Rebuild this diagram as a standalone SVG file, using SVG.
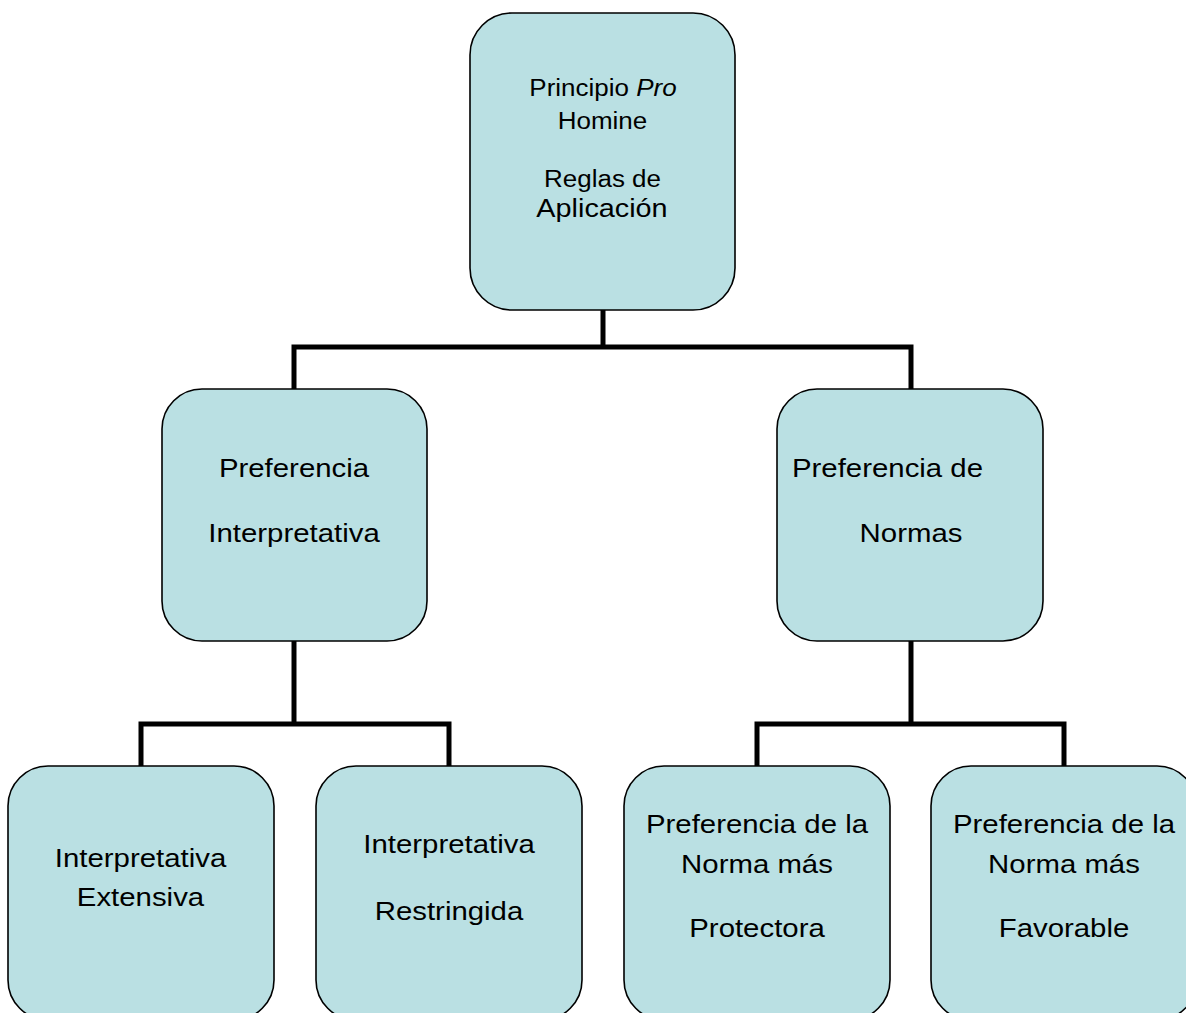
<svg xmlns="http://www.w3.org/2000/svg" width="1186" height="1013" viewBox="0 0 1186 1013">
<style>
.box{fill:#BAE0E3;stroke:#000;stroke-width:1.6}
.t{font-family:"Liberation Sans",Arial,sans-serif;font-size:26px;fill:#000;text-anchor:middle}
.s{font-size:23px}
.c{fill:none;stroke:#000;stroke-width:5;stroke-linejoin:miter;stroke-linecap:butt}
</style>
<rect width="1186" height="1013" fill="#fff"/>
<g id="connectors">
<path class="c" d="M603,310 V347"/>
<path class="c" d="M294,389 V347 H911 V389"/>
<path class="c" d="M294,641 V724"/>
<path class="c" d="M141,766 V724 H449 V766"/>
<path class="c" d="M911,641 V724"/>
<path class="c" d="M757,766 V724 H1064 V766"/>
</g>
<g id="root">
<rect class="box" x="470" y="13" width="265" height="297" rx="42"/>
<text class="t s" transform="translate(603,96) scale(1.13,1)">Principio <tspan font-style="italic">Pro</tspan></text>
<text class="t s" transform="translate(602.5,129) scale(1.13,1)">Homine</text>
<text class="t s" transform="translate(602.5,187) scale(1.13,1)">Reglas de</text>
<text class="t" style="font-size:25.5px" transform="translate(602,217) scale(1.13,1)">Aplicación</text>
</g>
<g id="pref-interpretativa">
<rect class="box" x="162" y="389" width="265" height="252" rx="40"/>
<text class="t" transform="translate(294,477) scale(1.13,1)">Preferencia</text>
<text class="t" transform="translate(294,542) scale(1.13,1)">Interpretativa</text>
</g>
<g id="pref-normas">
<rect class="box" x="777" y="389" width="266" height="252" rx="40"/>
<text class="t" transform="translate(887.5,477) scale(1.13,1)">Preferencia de</text>
<text class="t" transform="translate(911,542) scale(1.13,1)">Normas</text>
</g>
<g id="interp-extensiva">
<rect class="box" x="8" y="766" width="266" height="254" rx="40"/>
<text class="t" transform="translate(140.5,867) scale(1.13,1)">Interpretativa</text>
<text class="t" transform="translate(140.5,906) scale(1.13,1)">Extensiva</text>
</g>
<g id="interp-restringida">
<rect class="box" x="316" y="766" width="266" height="254" rx="40"/>
<text class="t" transform="translate(449,853) scale(1.13,1)">Interpretativa</text>
<text class="t" transform="translate(449,920) scale(1.13,1)">Restringida</text>
</g>
<g id="norma-protectora">
<rect class="box" x="624" y="766" width="266" height="254" rx="40"/>
<text class="t" transform="translate(757,833) scale(1.13,1)">Preferencia de la</text>
<text class="t" transform="translate(757,873) scale(1.13,1)">Norma más</text>
<text class="t" transform="translate(757,937) scale(1.13,1)">Protectora</text>
</g>
<g id="norma-favorable">
<rect class="box" x="931" y="766" width="266" height="254" rx="40"/>
<text class="t" transform="translate(1064,833) scale(1.13,1)">Preferencia de la</text>
<text class="t" transform="translate(1064,873) scale(1.13,1)">Norma más</text>
<text class="t" transform="translate(1064,937) scale(1.13,1)">Favorable</text>
</g>
</svg>
